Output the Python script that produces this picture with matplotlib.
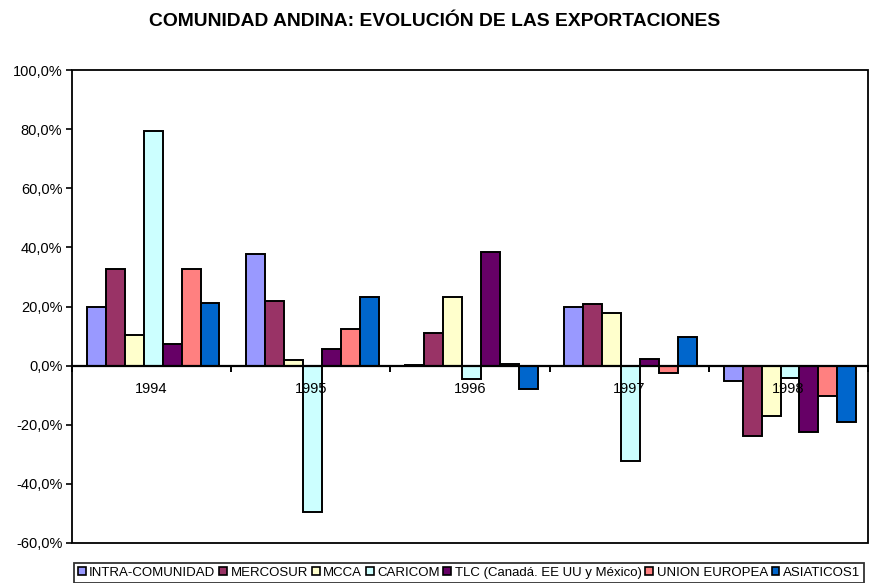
import matplotlib
matplotlib.use("Agg")
import matplotlib.pyplot as plt
import numpy as np
from matplotlib.ticker import FuncFormatter, FixedLocator
from matplotlib.patches import Rectangle

years = ["1994", "1995", "1996", "1997", "1998"]
series_names = ["INTRA-COMUNIDAD", "MERCOSUR", "MCCA", "CARICOM",
                "TLC (Canadá. EE UU y México)", "UNION EUROPEA", "ASIATICOS1"]
intra = [19.9, 37.9, 0.3, 19.7, -5.1]
mercosur = [32.8, 22.0, 10.9, 21.0, -23.9]
mcca = [10.5, 1.8, 23.1, 17.8, -17.1]
caricom = [79.4, -49.6, -4.5, -32.2, -4.3]
tlc = [7.2, 5.7, 38.6, 2.2, -22.6]
ue = [32.8, 12.5, 0.5, -2.4, -10.4]
asia = [21.3, 23.2, -7.9, 9.7, -19.2]
colors = ["#9999FF", "#993366", "#FFFFCC", "#CCFFFF", "#660066", "#FF8080", "#0066CC"]
yticks = [-60, -40, -20, 0, 20, 40, 60, 80, 100]

all_series = [intra, mercosur, mcca, caricom, tlc, ue, asia]

plt.rcParams['font.family'] = ['Liberation Sans', 'DejaVu Sans']

fig = plt.figure(figsize=(8.69, 5.83), dpi=100)
W, H = 869, 583
ax = fig.add_axes([72 / W, (H - 543) / H, 796 / W, 473 / H])

x = np.arange(len(years)) + 0.5
bw = 0.119
n = len(all_series)
for i, (vals, col, name) in enumerate(zip(all_series, colors, series_names)):
    ax.bar(x + (i - (n - 1) / 2) * bw + 0.01, vals, width=bw, color=col,
           edgecolor="black", linewidth=1.4, label=name, zorder=2)

ax.set_xlim(0, len(years))
ax.set_ylim(-60, 100)
ax.set_yticks(yticks)
ax.yaxis.set_major_formatter(FuncFormatter(lambda v, p: f"{v:.1f}%".replace(".", ",")))
ax.tick_params(axis="y", direction="out", length=4, width=1.2, labelsize=10.5, pad=3)

for s in ["top", "right", "left"]:
    ax.spines[s].set_visible(False)
ax.spines["bottom"].set_position(("data", 0))
ax.spines["bottom"].set_linewidth(1.6)
ax.spines["bottom"].set_zorder(3)
ax.xaxis.set_major_locator(FixedLocator(np.arange(0, len(years) + 1)))
ax.xaxis.set_minor_locator(FixedLocator(x))
ax.set_xticklabels([])
ax.set_xticklabels(years, minor=True)
ax.tick_params(axis="x", which="major", direction="out", length=4, width=1.4)
ax.tick_params(axis="x", which="minor", length=0, labelsize=10.5, pad=12)
ax.xaxis.set_zorder(5)

ax.add_patch(Rectangle((0, 0), 1, 1, transform=ax.transAxes, fill=False,
                       edgecolor="black", linewidth=1.3, clip_on=False, zorder=4))

fig.text(0.5, 1 - 21 / H, "COMUNIDAD ANDINA: EVOLUCIÓN DE LAS EXPORTACIONES",
         ha="center", va="center", fontsize=13.9, fontweight="bold")

leg = fig.legend(loc="upper left", bbox_to_anchor=(74 / W, 1 - 563 / H - 0.05, 790 / W, 0.05),
                 mode="expand", ncol=7, frameon=True, fancybox=False,
                 prop={"family": ["Liberation Sans Narrow", "Liberation Sans"], "size": 9.5},
                 handlelength=0.6, handleheight=0.6, handletextpad=0.25,
                 columnspacing=0.6, borderpad=0.3, borderaxespad=0)
leg.get_frame().set_edgecolor("black")
leg.get_frame().set_linewidth(1.3)
for h in leg.legend_handles:
    h.set_linewidth(1.2)

fig.savefig("out.png", dpi=100)
